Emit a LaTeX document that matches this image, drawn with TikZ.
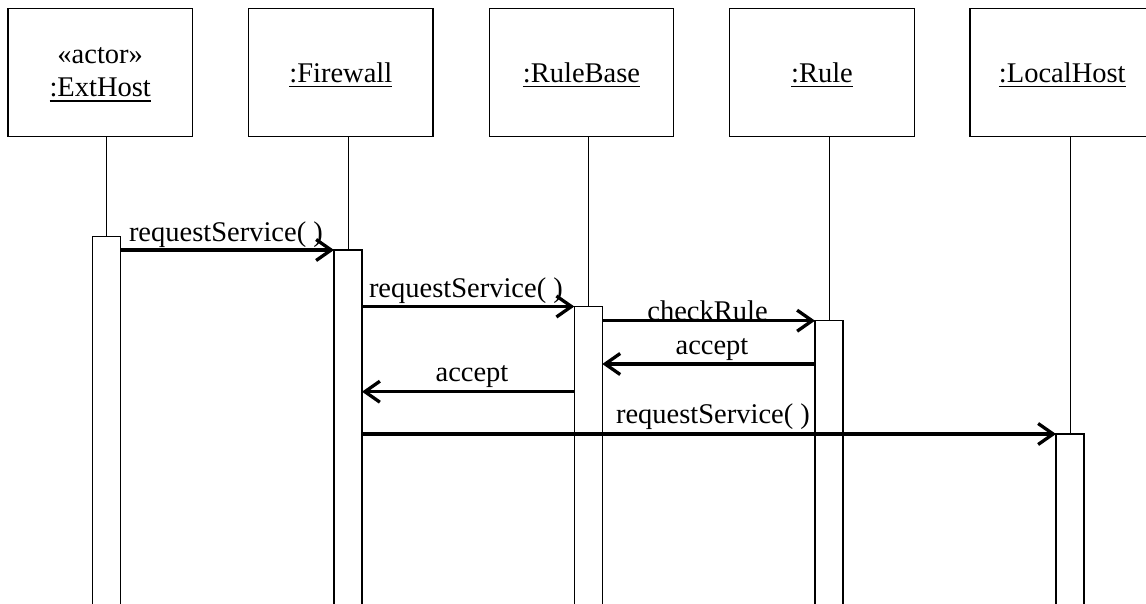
\documentclass[tikz,border=0pt]{standalone}
\usepackage{fontspec}
\setmainfont{Liberation Serif}
\usetikzlibrary{arrows.meta}
\newsavebox\ulbox
\newcommand\ulin[1]{\sbox\ulbox{#1}\rlap{\rule[-5pt]{\wd\ulbox}{1.5pt}}\usebox\ulbox}
\begin{document}
\begin{tikzpicture}[x=1pt,y=-1pt,
  txt/.style={font=\fontsize{28.5}{33}\selectfont},
  obj/.style={txt,draw,line width=1.4pt,minimum width=184.5pt,minimum height=128pt,
    inner sep=0pt,outer sep=0pt,align=center,text depth=0pt},
  bar/.style={draw,fill=white,line width=1.2pt,minimum width=28pt,minimum height=420pt,
    inner sep=0pt,outer sep=0pt,anchor=north},
  life/.style={line width=1pt},
  msg/.style={line width=3.3pt,-{Straight Barb[length=15pt,width=21pt,line width=3.3pt]}},
  lbl/.style={txt,inner sep=0pt,outer sep=0pt}]
\useasboundingbox (0,0) rectangle (1146,604);
\clip (0,0) rectangle (1146,604);
% objects
\node[obj] (ext) at (100.2,72.3) {«actor»\\\ulin{:ExtHost}};
\node[obj] (fw) at (340.8,72.3) {\ulin{:Firewall}};
\node[obj] (rb) at (581.5,72.3) {\ulin{:RuleBase}};
\node[obj] (rule) at (822,72.3) {\ulin{:Rule}};
\node[obj] (lh) at (1062.3,72.3) {\ulin{:LocalHost}};
% lifeline anchors
\coordinate (extT) at (106.7,236.7);
\coordinate (fwT) at (348,250);
\coordinate (rbT) at (588.3,306.7);
\coordinate (ruleT) at (829,320.7);
\coordinate (lhT) at (1070,434);
\draw[life] (ext.south -| extT) -- (extT);
\draw[life] (fw.south -| fwT) -- (fwT);
\draw[life] (rb.south -| rbT) -- (rbT);
\draw[life] (rule.south -| ruleT) -- (ruleT);
\draw[life] (lh.south -| lhT) -- (lhT);
% activation bars
\node[bar] (extBar) at (extT) {};
\node[bar] (fwBar) at (fwT) {};
\node[bar] (rbBar) at (rbT) {};
\node[bar] (ruleBar) at (ruleT) {};
\node[bar] (lhBar) at (lhT) {};
% message levels
\coordinate (m1) at (0,250);
\coordinate (m2) at (0,306.5);
\coordinate (m3) at (0,320.7);
\coordinate (m4) at (0,364);
\coordinate (m5) at (0,391.7);
\coordinate (m6) at (0,434);
% messages
\draw[msg] (extBar.east |- m1) -- (fwBar.west |- m1);
\draw[msg] (fwBar.east |- m2) -- (rbBar.west |- m2);
\draw[msg] (rbBar.east |- m3) -- (ruleBar.west |- m3);
\draw[msg] (ruleBar.west |- m4) -- (rbBar.east |- m4);
\draw[msg] (rbBar.west |- m5) -- (fwBar.east |- m5);
\draw[msg] (fwBar.east |- m6) -- (lhBar.west |- m6);
% labels
\node[lbl,anchor=base west] (l1) at (129,241) {requestService( )};
\node[lbl,anchor=base west] (l2) at (369,297) {requestService( )};
\node[lbl,anchor=base] (l3) at (707.5,320) {checkRule};
\node[lbl,anchor=base] (l4) at (712,354) {accept};
\node[lbl,anchor=base] (l5) at (472,381.7) {accept};
\node[lbl,anchor=base] (l6) at (713,423) {requestService( )};
\end{tikzpicture}
\end{document}
